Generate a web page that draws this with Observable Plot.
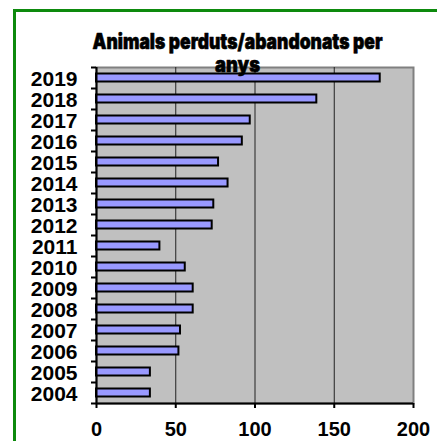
<!DOCTYPE html>
<html>
<head>
<meta charset="utf-8">
<script src="https://cdn.jsdelivr.net/npm/d3@7"></script>
<script src="https://cdn.jsdelivr.net/npm/@observablehq/plot@0.6"></script>
<style>
  html, body { margin: 0; padding: 0; background: white; }
  #wrap { position: relative; width: 437px; height: 441px; overflow: hidden; }
  #border { position: absolute; left: 13px; top: 9px; width: 500px; height: 500px;
            border-left: 3px solid #0d8a0d; border-top: 3px solid #0d8a0d; pointer-events: none; }
</style>
</head>
<body>
<div id="wrap"><div id="border"></div></div>
<script>
const years = ["2019","2018","2017","2016","2015","2014","2013","2012","2011","2010","2009","2008","2007","2006","2005","2004"];
const values = [179, 139, 97, 92, 77, 83, 74, 73, 40, 56, 61, 61, 53, 52, 34, 34];
const xTicks = [0, 50, 100, 150, 200];
const gridValues = [50, 100, 150];
const titleLines = ["Animals perduts/abandonats per", "anys"];

const data = years.map((year, i) => ({year, value: values[i]}));
const axisFont = "Liberation Sans, Arial, sans-serif";
const titleFont = "Inter, Roboto, sans-serif";

const chart = Plot.plot({
  width: 437,
  height: 441,
  marginLeft: 96,
  marginRight: 24,
  marginTop: 67,
  marginBottom: 38,
  style: {fontFamily: axisFont, background: "transparent", overflow: "visible"},
  x: {domain: [0, 200], label: null},
  y: {domain: years, padding: 0, label: null},
  marks: [
    Plot.frame({fill: "#c0c0c0", stroke: "#808080", strokeWidth: 2}),
    Plot.ruleX(gridValues, {stroke: "#222", strokeWidth: 1}),
    Plot.barX(data, {x: "value", y: "year", fill: "#9999ff", stroke: "black", strokeWidth: 2, insetTop: 6.5, insetBottom: 6.5}),
    Plot.ruleX([0], {stroke: "black", strokeWidth: 2}),
    Plot.ruleY([years[years.length - 1]], {stroke: "black", strokeWidth: 2, dy: 10.5}),
    Plot.axisY({tickSize: 5, strokeWidth: 2, dy: -10.5, tickFormat: () => "", label: null}),
    Plot.axisY([years[years.length - 1]], {tickSize: 5, strokeWidth: 2, dy: 10.5, tickFormat: () => "", label: null}),
    Plot.axisY({tickSize: 0, tickPadding: 19, fontSize: 21, fontWeight: "bold", fontFamily: axisFont, fill: "black", label: null, dy: 1}),
    Plot.axisX({ticks: xTicks, tickSize: 5, tickPadding: 13, strokeWidth: 2, fontSize: 20, fontWeight: "bold", fontFamily: axisFont, fill: "black", label: null}),
    Plot.text([titleLines[0]], {text: d => d, frameAnchor: "top", dx: -17.5, dy: -25, fontSize: 21, fontWeight: "900", fontFamily: titleFont, fill: "black", stroke: "black", strokeWidth: 0.6, lineAnchor: "middle"}),
    Plot.text([titleLines[1]], {text: d => d, frameAnchor: "top", dx: -17.5, dy: -2, fontSize: 21, fontWeight: "900", fontFamily: titleFont, fill: "black", stroke: "black", strokeWidth: 0.6, lineAnchor: "middle"})
  ]
});

d3.select(chart).selectAll("text").each(function() {
  const t = this.textContent;
  if (t === titleLines[0]) { this.setAttribute("textLength", 290); this.setAttribute("lengthAdjust", "spacingAndGlyphs"); }
  if (t === titleLines[1]) { this.setAttribute("textLength", 45); this.setAttribute("lengthAdjust", "spacingAndGlyphs"); }
});
d3.select(chart).style("position", "absolute").style("left", "0px").style("top", "0px");
document.getElementById("wrap").insertBefore(chart, document.getElementById("border"));
</script>
</body>
</html>
